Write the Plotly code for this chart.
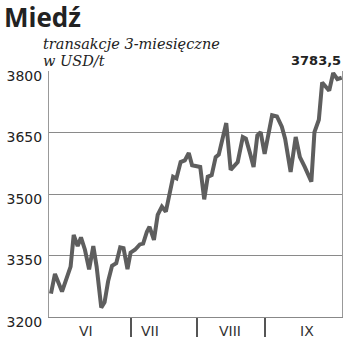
import plotly.graph_objects as go

# --- data ---
day = [0.9, 2.7, 5.9, 9.8, 11.2, 13.0, 14.5, 16.3, 18.2, 20.1, 21.6, 23.7, 25.2, 26.8,
       28.6, 30.5, 32.3, 33.8, 35.6, 37.0, 39.0, 41.2, 42.7, 44.4, 45.6, 47.6, 49.3,
       51.2, 53.0, 54.5, 56.3, 57.8, 59.7, 61.6, 63.4, 64.9, 66.7, 68.6, 70.4, 72.0,
       73.8, 75.6, 77.0, 78.7, 80.4, 82.4, 84.0, 85.6, 87.9, 89.3, 91.1, 92.8, 94.5,
       96.0, 97.8, 99.6, 101.2, 103.4, 105.6, 107.1, 109.6, 111.9, 113.8, 116.0, 117.3,
       119.0, 120.4, 122.4, 123.9, 125.3, 127.1, 128.9, 130.8, 132.8]
price = [3257, 3305, 3262, 3323, 3400, 3373, 3394, 3364, 3316, 3373, 3323, 3223, 3236, 3287,
         3325, 3331, 3370, 3368, 3317, 3357, 3364, 3377, 3379, 3408, 3420, 3388, 3449,
         3469, 3457, 3501, 3542, 3538, 3578, 3582, 3600, 3570, 3568, 3566, 3487, 3542,
         3546, 3590, 3596, 3634, 3673, 3559, 3569, 3578, 3639, 3635, 3601, 3566, 3643,
         3651, 3598, 3644, 3692, 3689, 3664, 3635, 3554, 3639, 3590, 3566, 3549,
         3530, 3651, 3681, 3772, 3764, 3752, 3795, 3780, 3783.5]
month_labels = ["VI", "VII", "VIII", "IX"]
month_label_pos = [16.8, 45.8, 82.2, 116.9]
month_bounds = [37, 67, 98]
y_ticks = [3200, 3350, 3500, 3650, 3800]
last_label = "3783,5"
title = "Miedź"
subtitle1 = "transakcje 3-miesięczne"
subtitle2 = "w USD/t"

W, H = 350, 352
ml, mr, mt, mb = 43.5, 7, 70.5, 34.5
ph = H - mt - mb
pw = W - ml - mr

def py(p):
    return (H - mb - p) / ph

def px(p):
    return (p - ml) / pw

fig = go.Figure()
fig.add_trace(go.Scatter(x=day, y=price, mode="lines",
                         line=dict(color="#5e5e5e", width=4), hoverinfo="skip"))

fig.update_layout(
    width=W, height=H, margin=dict(l=ml, r=mr, t=mt, b=mb),
    paper_bgcolor="white", plot_bgcolor="white", showlegend=False,
    xaxis=dict(range=[0, 132.9], tickvals=month_bounds, ticks="outside", ticklen=19,
               tickcolor="#555", tickwidth=1.5, showticklabels=False, showgrid=False,
               showline=True, linecolor="#888", linewidth=1.2, zeroline=False),
    yaxis=dict(range=[3200, 3800], tickvals=y_ticks, showgrid=True, gridcolor="#8a8a8a",
               gridwidth=1, showline=True, mirror=True, linecolor="#999", linewidth=1,
               zeroline=False, ticks="", ticklabelstandoff=3, ticklabelshift=5,
               tickfont=dict(family="DejaVu Sans", size=14, color="#222")),
)

ann = []
ann.append(dict(text=f"<b>{title}</b>", x=px(-5), y=py(16), xref="paper", yref="paper",
                xanchor="left", yanchor="middle", showarrow=False,
                font=dict(family="Open Sans", size=26, color="#222")))
ann.append(dict(text=f"<i>{subtitle1}</i>", x=px(35), y=py(43), xref="paper", yref="paper",
                xanchor="left", yanchor="middle", showarrow=False,
                font=dict(family="DejaVu Serif", size=14.5, color="#222")))
ann.append(dict(text=f"<i>{subtitle2}</i>", x=px(35), y=py(60), xref="paper", yref="paper",
                xanchor="left", yanchor="middle", showarrow=False,
                font=dict(family="DejaVu Serif", size=14.5, color="#222")))
ann.append(dict(text=f"<b>{last_label}</b>", x=px(344), y=py(59.5), xref="paper", yref="paper",
                xanchor="right", yanchor="middle", showarrow=False,
                font=dict(family="DejaVu Sans", size=13, color="#222")))
for lab, pos in zip(month_labels, month_label_pos):
    ann.append(dict(text=lab, x=pos, y=py(332), xref="x", yref="paper",
                    xanchor="center", yanchor="middle", showarrow=False,
                    font=dict(family="DejaVu Sans", size=14, color="#333")))
fig.update_layout(annotations=ann)

fig.write_html("out.html")
